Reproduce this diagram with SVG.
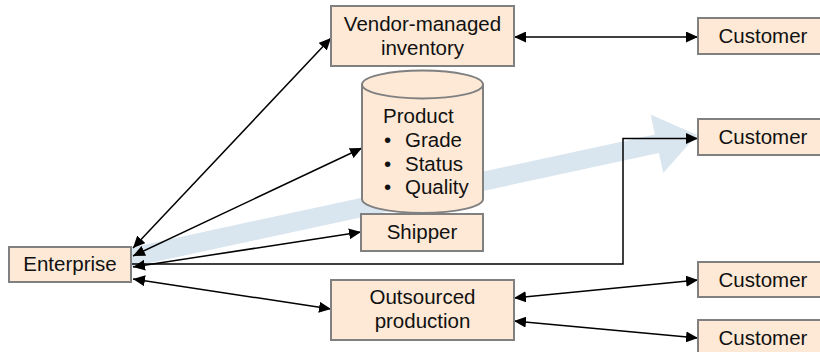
<svg xmlns="http://www.w3.org/2000/svg" width="820" height="352" viewBox="0 0 820 352">
  <defs>
    <style>
      .box { fill: #FDE9D6; stroke: #808080; stroke-width: 2; }
      .lbl { font-family: "Liberation Sans", Arial, Helvetica, sans-serif; font-size: 20.5px; fill: #111; }
      .mid { text-anchor: middle; }
      .link { fill: none; stroke: #000; stroke-width: 1.5; }
      .flow { fill: #DAE6EF; }
    </style>
    <marker id="arrow" viewBox="0 0 12 11" refX="12" refY="5.5" markerWidth="12" markerHeight="11" markerUnits="userSpaceOnUse" orient="auto-start-reverse">
      <path d="M0,0 L12,5.5 L0,11 Z" fill="#000"/>
    </marker>
  </defs>

  <rect width="820" height="352" fill="#fff"/>

  <!-- broad flow arrow from Enterprise towards the customers -->
  <g id="flow-arrow">
    <polygon class="flow" points="126,248.7 654.9,134.4 650.6,114.4 697,135 663.2,173 658.9,153 130,267.3"/>
  </g>

  <!-- connectors -->
  <g id="connectors">
    <line class="link" x1="133" y1="248" x2="331" y2="38" marker-start="url(#arrow)" marker-end="url(#arrow)"/>
    <line class="link" x1="133" y1="256" x2="362" y2="148" marker-start="url(#arrow)" marker-end="url(#arrow)"/>
    <line class="link" x1="133" y1="267" x2="361" y2="232" marker-start="url(#arrow)" marker-end="url(#arrow)"/>
    <polyline class="link" points="131,264 623,264 623,138.5 698,138.5" marker-end="url(#arrow)"/>
    <line class="link" x1="133" y1="279" x2="331" y2="309" marker-start="url(#arrow)" marker-end="url(#arrow)"/>
    <line class="link" x1="514" y1="37" x2="698" y2="37" marker-start="url(#arrow)" marker-end="url(#arrow)"/>
    <line class="link" x1="514" y1="298" x2="698" y2="280" marker-start="url(#arrow)" marker-end="url(#arrow)"/>
    <line class="link" x1="514" y1="321" x2="698" y2="338" marker-start="url(#arrow)" marker-end="url(#arrow)"/>
  </g>

  <g id="vendor-managed-inventory">
    <rect class="box" x="331" y="6" width="183" height="60"/>
    <text class="lbl mid" x="422.5" y="31">Vendor-managed</text>
    <text class="lbl mid" x="422.5" y="55">inventory</text>
  </g>

  <g id="product">
    <path class="box" d="M362,84.5 L362,199 A60.5,14 0 0 0 483,199 L483,84.5"/>
    <ellipse class="box" cx="422.5" cy="84.5" rx="60.5" ry="14"/>
    <text class="lbl" x="383" y="123">Product</text>
    <text class="lbl" y="147"><tspan x="384">•</tspan><tspan x="405">Grade</tspan></text>
    <text class="lbl" y="171"><tspan x="384">•</tspan><tspan x="405">Status</tspan></text>
    <text class="lbl" y="194"><tspan x="384">•</tspan><tspan x="405">Quality</tspan></text>
  </g>

  <g id="shipper">
    <rect class="box" x="361" y="214" width="122" height="37"/>
    <text class="lbl mid" x="422" y="239">Shipper</text>
  </g>

  <g id="enterprise">
    <rect class="box" x="9" y="247" width="122" height="35"/>
    <text class="lbl mid" x="70" y="271">Enterprise</text>
  </g>

  <g id="outsourced-production">
    <rect class="box" x="331" y="280" width="183" height="60"/>
    <text class="lbl mid" x="422.5" y="304">Outsourced</text>
    <text class="lbl mid" x="422.5" y="328">production</text>
  </g>

  <g id="customer-1">
    <rect class="box" x="698" y="18" width="128" height="36"/>
    <text class="lbl mid" x="763" y="43">Customer</text>
  </g>

  <g id="customer-2">
    <rect class="box" x="698" y="119" width="128" height="36"/>
    <text class="lbl mid" x="763" y="144">Customer</text>
  </g>

  <g id="customer-3">
    <rect class="box" x="698" y="262" width="128" height="35"/>
    <text class="lbl mid" x="763" y="287">Customer</text>
  </g>

  <g id="customer-4">
    <rect class="box" x="698" y="320" width="128" height="36"/>
    <text class="lbl mid" x="763" y="345">Customer</text>
  </g>
</svg>
